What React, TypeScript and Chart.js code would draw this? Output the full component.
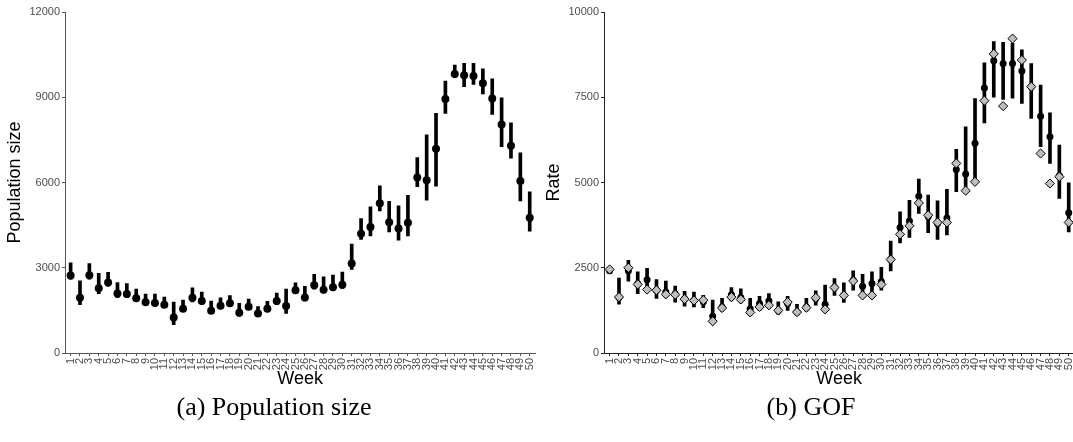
import React, { useEffect, useRef } from 'react';
import { Chart, registerables } from 'chart.js';

Chart.register(...registerables);

const weeks = [
  1, 2, 3, 4, 5, 6, 7, 8, 9, 10, 11, 12, 13, 14, 15, 16, 17, 18, 19, 20, 21, 22, 23, 24, 25,
  26, 27, 28, 29, 30, 31, 32, 33, 34, 35, 36, 37, 38, 39, 40, 41, 42, 43, 44, 45, 46, 47, 48, 49, 50,
];

const popMean = [
  2730, 1940, 2740, 2280, 2480, 2090, 2080, 1930, 1790, 1760, 1700, 1250, 1560, 1940, 1830, 1490, 1660,
  1750, 1420, 1630, 1390, 1560, 1830, 1650, 2210, 1950, 2380, 2230, 2310, 2400, 3150, 4200, 4430, 5270,
  4600, 4380, 4580, 6180, 6080, 7190, 8940, 9820, 9770, 9750, 9490, 8960, 8040, 7290, 6050, 4760,
];
const popLow = [
  2600, 1700, 2600, 2090, 2350, 1950, 1950, 1820, 1670, 1650, 1600, 1000, 1470, 1800, 1720, 1390, 1550,
  1630, 1300, 1530, 1280, 1460, 1700, 1390, 2090, 1830, 2250, 2110, 2210, 2270, 2940, 4000, 4120, 5000,
  4260, 3970, 4120, 5850, 5380, 5870, 8430, 9690, 9370, 9450, 9120, 8400, 7260, 6860, 5350, 4290,
];
const popHigh = [
  3170, 2540, 3150, 2800, 2840, 2480, 2440, 2250, 2070, 2070, 1970, 1790, 1860, 2290, 2140, 1830, 1940,
  2020, 1750, 1900, 1630, 1820, 2110, 2250, 2470, 2350, 2770, 2680, 2740, 2850, 3830, 4730, 5140, 5880,
  5340, 5180, 5550, 6880, 7680, 8430, 9570, 10130, 10190, 10190, 10000, 9650, 8980, 8100, 7040, 5670,
];

const rateMean = [
  2410, 1630, 2410, 2030, 2150, 1840, 1790, 1740, 1590, 1550, 1500, 1080, 1350, 1710, 1630, 1300, 1450,
  1530, 1250, 1450, 1200, 1350, 1600, 1430, 1920, 1690, 2130, 1960, 2040, 2100, 2740, 3680, 3870, 4600,
  4000, 3800, 3960, 5380, 5250, 6150, 7770, 8570, 8490, 8490, 8270, 7810, 6940, 6340, 5200, 4110,
];
const rateLow = [
  2350, 1430, 2110, 1740, 1790, 1600, 1630, 1490, 1370, 1350, 1330, 860, 1220, 1530, 1470, 1110, 1250,
  1300, 1130, 1250, 1110, 1230, 1400, 1220, 1690, 1480, 1840, 1640, 1690, 1840, 2410, 3230, 3390, 4090,
  3530, 3330, 3460, 4730, 4870, 4970, 6750, 7500, 7440, 7470, 7320, 6880, 6050, 5560, 4530, 3550,
];
const rateHigh = [
  2500, 2200, 2720, 2380, 2480, 2150, 2110, 1960, 1810, 1790, 1690, 1550, 1600, 1920, 1880, 1600, 1660,
  1740, 1500, 1660, 1430, 1600, 1820, 1990, 2180, 2060, 2410, 2310, 2380, 2510, 3280, 4140, 4480, 5100,
  4630, 4460, 4800, 5970, 6630, 7460, 8510, 9130, 9110, 9080, 8890, 8490, 7860, 7040, 6100, 4990,
];
const gofRate = [
  2450, 1640, 2500, 2010, 1860, 1840, 1720, 1710, 1580, 1540, 1550, 930, 1320, 1640, 1570, 1190, 1350,
  1400, 1250, 1490, 1200, 1330, 1620, 1280, 1920, 1690, 2110, 1690, 1690, 2010, 2740, 3480, 3730, 4400,
  4040, 3830, 3830, 5560, 4760, 5020, 7400, 8770, 7240, 9220, 8590, 7810, 5850, 4970, 5170, 3830,
];

const popTicks = [0, 3000, 6000, 9000, 12000];
const rateTicks = [0, 2500, 5000, 7500, 10000];

const SANS = "'Liberation Sans', Arial, sans-serif";
const CANVAS_W = 545;
const CANVAS_H = 395;

function buildConfig(
  yTitle: string,
  yMax: number,
  yTicks: number[],
  mean: number[],
  low: number[],
  high: number[],
  pointR: number,
  axisColor: string,
  gof?: number[]
): any {
  const datasets: any[] = [
    {
      type: 'bar',
      data: weeks.map((w, i) => ({ x: w, y: [low[i], high[i]] })),
      backgroundColor: '#000000',
      borderWidth: 0,
      barThickness: 3,
      order: 3,
    },
    {
      type: 'scatter',
      data: weeks.map((w, i) => ({ x: w, y: mean[i] })),
      showLine: false,
      pointRadius: pointR,
      pointBackgroundColor: '#000000',
      pointBorderColor: '#000000',
      pointBorderWidth: 0,
      order: 2,
    },
  ];
  if (gof) {
    datasets.push({
      type: 'scatter',
      data: weeks.map((w, i) => ({ x: w, y: gof[i] })),
      showLine: false,
      pointStyle: 'rectRot',
      pointRadius: 4.6,
      pointBackgroundColor: '#bebebe',
      pointBorderColor: '#000000',
      pointBorderWidth: 1,
      order: 1,
    });
  }
  return {
    type: 'scatter',
    data: { datasets },
    options: {
      animation: false,
      responsive: false,
      events: [],
      layout: { padding: { left: 0, top: 12, right: 7, bottom: 0 } },
      plugins: { legend: { display: false }, tooltip: { enabled: false } },
      scales: {
        x: {
          type: 'linear',
          min: 0.4,
          max: 50.6,
          offset: false,
          afterBuildTicks: (s: any) => {
            s.ticks = weeks.map((w) => ({ value: w }));
          },
          afterFit: (s: any) => {
            s.height = 42;
          },
          ticks: {
            autoSkip: false,
            maxRotation: 90,
            minRotation: 90,
            padding: 2,
            color: '#4d4d4d',
            font: { family: SANS, size: 11 },
            callback: (v: any) => String(v),
          },
          grid: {
            display: true,
            offset: false,
            drawOnChartArea: false,
            drawTicks: true,
            tickLength: 3,
            color: axisColor,
          },
          border: { display: true, color: axisColor, width: 1 },
          title: {
            display: true,
            text: 'Week',
            color: '#000000',
            font: { family: SANS, size: 18 },
            padding: { top: 0, bottom: 5 },
          },
        },
        y: {
          type: 'linear',
          min: 0,
          max: yMax,
          afterBuildTicks: (s: any) => {
            s.ticks = yTicks.map((t) => ({ value: t }));
          },
          afterFit: (s: any) => {
            s.width = 65;
          },
          ticks: {
            padding: 2,
            color: '#4d4d4d',
            font: { family: SANS, size: 11 },
            callback: (v: any) => String(v),
          },
          grid: {
            display: true,
            drawOnChartArea: false,
            drawTicks: true,
            tickLength: 3,
            color: axisColor,
          },
          border: { display: true, color: axisColor, width: 1 },
          title: {
            display: true,
            text: yTitle,
            color: '#000000',
            font: { family: SANS, size: 18 },
            padding: { top: 4, bottom: 0 },
          },
        },
      },
    },
  };
}

function Panel(props: { left: number; build: () => any }) {
  const ref = useRef<HTMLCanvasElement | null>(null);
  useEffect(() => {
    if (!ref.current) return;
    const chart = new Chart(ref.current, props.build());
    return () => chart.destroy();
  }, []);
  return (
    <canvas
      ref={ref}
      width={CANVAS_W}
      height={CANVAS_H}
      style={{ position: 'absolute', left: props.left, top: 0, width: CANVAS_W, height: CANVAS_H }}
    />
  );
}

const captionStyle = (center: number): React.CSSProperties => ({
  position: 'absolute',
  left: center - 200,
  width: 400,
  top: 394,
  textAlign: 'center',
  fontFamily: "'Liberation Serif', 'Times New Roman', serif",
  fontSize: 26,
  lineHeight: '26px',
  color: '#000',
  whiteSpace: 'nowrap',
});

export default function App() {
  return (
    <div
      style={{
        position: 'fixed',
        left: 0,
        top: 0,
        width: 1073,
        height: 442,
        overflow: 'hidden',
        background: '#ffffff',
      }}
    >
      <Panel
        left={0}
        build={() => buildConfig('Population size', 12000, popTicks, popMean, popLow, popHigh, 4, '#555555')}
      />
      <Panel
        left={539}
        build={() => buildConfig('Rate', 10000, rateTicks, rateMean, rateLow, rateHigh, 3.5, '#222222', gofRate)}
      />
      <div style={captionStyle(274)}>(a) Population size</div>
      <div style={captionStyle(811)}>(b) GOF</div>
    </div>
  );
}
